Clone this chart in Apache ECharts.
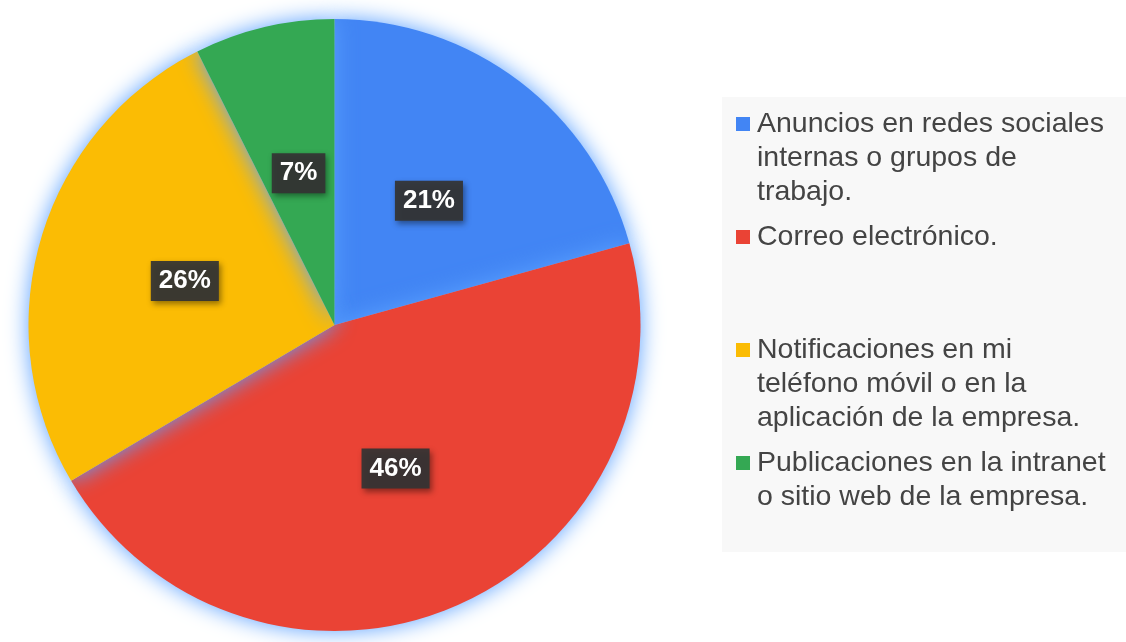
<!DOCTYPE html>
<html>
<head>
<meta charset="utf-8">
<script src="https://cdn.jsdelivr.net/npm/echarts@6/dist/echarts.min.js"></script>
<style>
html,body{margin:0;padding:0;background:#fff;}
#c{width:1126px;height:642px;}
</style>
</head>
<body>
<div id="c"></div>
<script>
var categories = [
  'Anuncios en redes sociales internas o grupos de trabajo.',
  'Correo electrónico.',
  'Notificaciones en mi teléfono móvil o en la aplicación de la empresa.',
  'Publicaciones en la intranet o sitio web de la empresa.'
];
var values = [20.7, 45.8, 26.1, 7.4];
var legendLines = [
  ['Anuncios en redes sociales', 'internas o grupos de', 'trabajo.'],
  ['Correo electrónico.', '', ''],
  ['Notificaciones en mi', 'teléfono móvil o en la', 'aplicación de la empresa.'],
  ['Publicaciones en la intranet', 'o sitio web de la empresa.']
];
var colors = ['#4285f4', '#ea4335', '#fbbc04', '#34a853'];
var sqKeys = ['b0', 'b1', 'b2', 'b3'];

var FONT = "'Liberation Sans', Arial, sans-serif";
var LH = 34;

var rich = {
  s: {width: 14, height: 14, lineHeight: LH},
  t: {fontSize: 28.5, fontFamily: FONT, color: '#444444', lineHeight: LH, padding: [0, 0, 0, 7]}
};
sqKeys.forEach(function (k, i) {
  rich[k] = {width: 14, height: 14, backgroundColor: colors[i], lineHeight: LH};
});

var chart = echarts.init(document.getElementById('c'), null, {renderer: 'canvas'});
chart.setOption({
  animation: false,
  color: colors,
  legend: {
    orient: 'vertical',
    left: 722,
    top: 97,
    padding: [10, 40, 38, 9],
    backgroundColor: '#f8f8f8',
    itemWidth: 0,
    itemHeight: 0,
    itemGap: 11,
    selectedMode: false,
    data: categories,
    formatter: function (name) {
      var i = categories.indexOf(name);
      return legendLines[i].map(function (line, j) {
        var head = j === 0 ? '{' + sqKeys[i] + '|}' : '{s|}';
        return head + (line ? '{t|' + line + '}' : '');
      }).join('\n');
    },
    textStyle: {fontSize: 28.5, fontFamily: FONT, color: '#444444', lineHeight: LH, rich: rich}
  },
  series: [{
    type: 'pie',
    center: [334.5, 325],
    radius: [0, 306],
    startAngle: 90,
    clockwise: true,
    emphasis: {disabled: true},
    itemStyle: {
      shadowBlur: 22,
      shadowColor: 'rgba(90,160,255,1)'
    },
    label: {
      position: 'inside',
      formatter: function (p) { return Math.round(p.percent) + '%'; },
      color: '#ffffff',
      fontWeight: 'bold',
      fontSize: 26,
      fontFamily: FONT,
      lineHeight: 28,
      backgroundColor: 'rgba(52,52,52,0.93)',
      padding: [6, 8],
      shadowColor: 'rgba(0,0,0,0.45)',
      shadowBlur: 6,
      shadowOffsetX: 2,
      shadowOffsetY: 3
    },
    labelLine: {show: false},
    data: categories.map(function (c, i) { return {name: c, value: values[i]}; })
  }]
});
</script>
</body>
</html>
